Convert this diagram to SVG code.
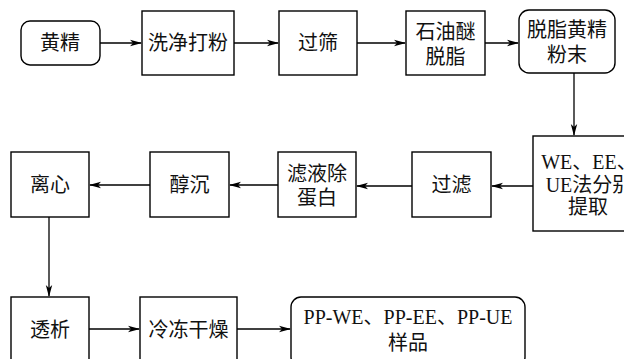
<svg xmlns="http://www.w3.org/2000/svg" width="624" height="359" viewBox="0 0 624 359">
<defs>
<marker id="ah" markerWidth="12" markerHeight="8" refX="11" refY="4" orient="auto" markerUnits="userSpaceOnUse">
<path d="M0,0.8 L12,4 L0,7.2 L3,4 z" fill="#000"/>
</marker>
</defs>
<style>
.b{fill:#fff;stroke:#000;stroke-width:1.4}
.t{font-family:"Liberation Serif","Noto Sans CJK SC",serif;font-size:20px;fill:#111;text-anchor:middle;dominant-baseline:central}
.c{fill:none;stroke:#000;stroke-width:1.3;marker-end:url(#ah)}
</style>
<rect width="624" height="359" fill="#fff"/>
<g id="connectors">
<line class="c" x1="100" y1="43" x2="141" y2="43"/>
<line class="c" x1="234" y1="43" x2="278" y2="43"/>
<line class="c" x1="357" y1="43" x2="405" y2="43"/>
<line class="c" x1="485" y1="43" x2="518" y2="43"/>
<line class="c" x1="574" y1="73" x2="574" y2="135"/>
<line class="c" x1="533" y1="186" x2="492" y2="186"/>
<line class="c" x1="412" y1="186" x2="357" y2="186"/>
<line class="c" x1="278" y1="185" x2="230" y2="185"/>
<line class="c" x1="150" y1="185" x2="90" y2="185"/>
<line class="c" x1="49" y1="217" x2="49" y2="296"/>
<line class="c" x1="89" y1="329" x2="139" y2="329"/>
<line class="c" x1="237" y1="329" x2="290" y2="329"/>
</g>
<g id="n1"><rect class="b" x="21" y="21" width="79" height="44" rx="9"/><text class="t" x="60" y="43">黄精</text></g>
<g id="n2"><rect class="b" x="142" y="11" width="92" height="64"/><text class="t" x="188" y="43">洗净打粉</text></g>
<g id="n3"><rect class="b" x="279" y="11" width="78" height="64"/><text class="t" x="318" y="43">过筛</text></g>
<g id="n4"><rect class="b" x="406" y="11" width="79" height="64"/><text class="t" x="445.5" y="32">石油醚</text><text class="t" x="445.5" y="57">脱脂</text></g>
<g id="n5"><rect class="b" x="519" y="10" width="96" height="63" rx="10"/><text class="t" x="567" y="30">脱脂黄精</text><text class="t" x="567" y="55">粉末</text></g>
<g id="n6"><rect class="b" x="533" y="136" width="112" height="95"/><text class="t" x="589" y="162">WE、EE、</text><text class="t" x="589" y="184.5">UE法分别</text><text class="t" x="588" y="207">提取</text></g>
<g id="n7"><rect class="b" x="412" y="152" width="79" height="65"/><text class="t" x="451.5" y="185">过滤</text></g>
<g id="n8"><rect class="b" x="278" y="152" width="78" height="65"/><text class="t" x="317" y="174">滤液除</text><text class="t" x="317" y="198">蛋白</text></g>
<g id="n9"><rect class="b" x="150" y="152" width="79" height="65"/><text class="t" x="189.5" y="185">醇沉</text></g>
<g id="n10"><rect class="b" x="11" y="152" width="78" height="65"/><text class="t" x="50" y="185">离心</text></g>
<g id="n11"><rect class="b" x="11" y="297" width="78" height="70"/><text class="t" x="50" y="330">透析</text></g>
<g id="n12"><rect class="b" x="140" y="297" width="97" height="70"/><text class="t" x="188.5" y="330">冷冻干燥</text></g>
<g id="n13"><rect class="b" x="291" y="297" width="234" height="70" rx="10"/><text class="t" x="408" y="317">PP-WE、PP-EE、PP-UE</text><text class="t" x="408" y="343">样品</text></g>
</svg>
